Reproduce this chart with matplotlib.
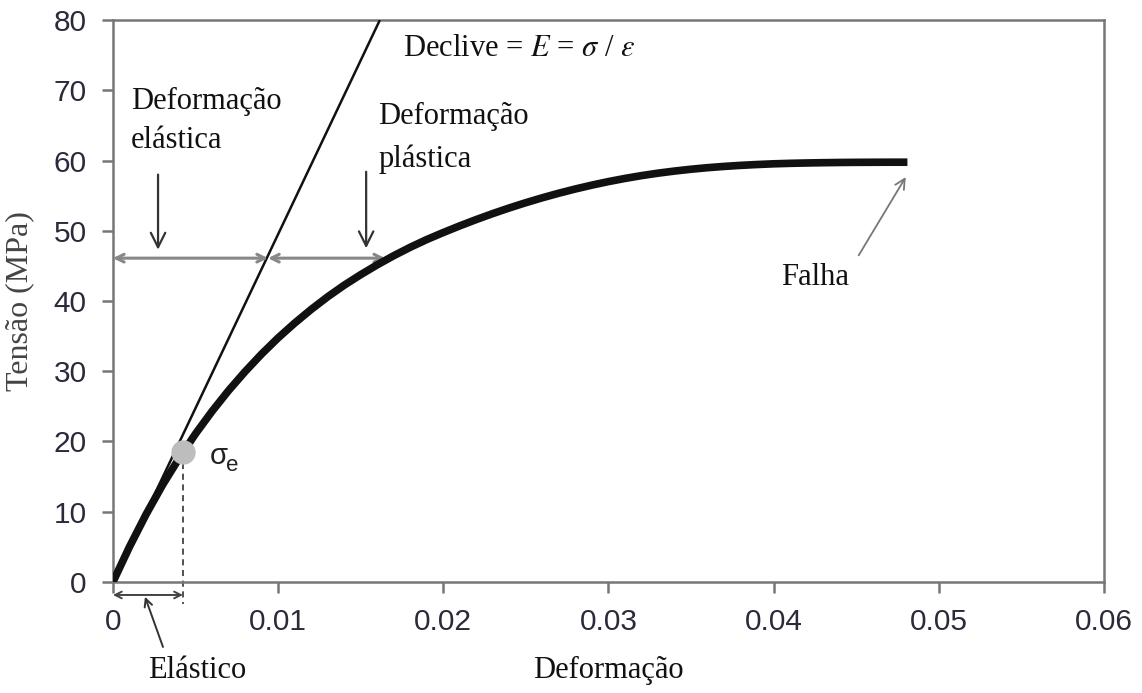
import matplotlib
matplotlib.use("Agg")
import matplotlib.pyplot as plt

# ---- data ----
strain = [0, 0.001, 0.002, 0.003, 0.004, 0.005, 0.006, 0.007, 0.008, 0.009,
          0.010, 0.011, 0.012, 0.013, 0.014, 0.015, 0.016, 0.017, 0.018, 0.019,
          0.020, 0.021, 0.022, 0.023, 0.024, 0.025, 0.026, 0.027, 0.028, 0.029,
          0.030, 0.031, 0.032, 0.033, 0.034, 0.035, 0.036, 0.037, 0.038, 0.039,
          0.040, 0.041, 0.042, 0.043, 0.044, 0.045, 0.046, 0.047, 0.0481]
stress = [0, 5.0, 9.6, 13.8, 17.6, 21.1, 24.3, 27.25, 29.95, 32.45,
          34.75, 36.85, 38.8, 40.6, 42.25, 43.75, 45.15, 46.45, 47.65, 48.75,
          49.75, 50.7, 51.6, 52.45, 53.25, 54.0, 54.7, 55.35, 55.95, 56.5,
          57.0, 57.45, 57.85, 58.2, 58.5, 58.76, 58.98, 59.16, 59.31, 59.43,
          59.53, 59.6, 59.65, 59.69, 59.72, 59.74, 59.75, 59.76, 59.76]
slope_x = [0, 0.01616]
slope_y = [0, 80]
yield_pt = (0.00424, 18.5)
xticks = [0, 0.01, 0.02, 0.03, 0.04, 0.05, 0.06]
xticklabels = ["0", "0.01", "0.02", "0.03", "0.04", "0.05", "0.06"]
yticks = [0, 10, 20, 30, 40, 50, 60, 70, 80]

serif = "Liberation Serif"
sans = "Liberation Sans"
plt.rcParams["mathtext.fontset"] = "stix"

fig = plt.figure(figsize=(11.42, 6.93), dpi=100)
ax = fig.add_axes([0.0989, 0.1602, 0.9667 - 0.0989, 0.9711 - 0.1602])
ax.set_xlim(0, 0.06)
ax.set_ylim(0, 80)

spine_c = "#777777"
for s in ax.spines.values():
    s.set_color(spine_c)
    s.set_linewidth(1.8)

ax.set_xticks(xticks)
ax.set_xticklabels(xticklabels)
ax.set_yticks(yticks)
ax.tick_params(axis="both", direction="out", length=8, width=1.8, color=spine_c,
               labelsize=21.5, labelcolor="#2a2a3a", pad=11)
for lab in ax.get_xticklabels() + ax.get_yticklabels():
    lab.set_fontfamily(sans)

ax.set_xlabel("Deformação", fontfamily=serif, fontsize=22, color="#111111", labelpad=14)
ax.set_ylabel("Tensão (MPa)", fontfamily=serif, fontsize=23, color="#444444", labelpad=14)

# slope line and curve
ax.plot(slope_x, slope_y, color="#111111", lw=1.8, solid_capstyle="butt", zorder=3)
ax.plot(strain, stress, color="#111111", lw=5.5, solid_capstyle="butt",
        solid_joinstyle="round", zorder=4)
ax.plot([yield_pt[0]], [yield_pt[1]], "o", ms=16.5, color="#bdbdbd", mec="#bdbdbd", zorder=5)

# dashed drop line
ax.plot([yield_pt[0], yield_pt[0]], [yield_pt[1] - 1.5, -3.2], color="#222222", lw=1.1,
        ls=(0, (4, 3)), clip_on=False, zorder=2)

arrow_gray = "#888888"
# horizontal double arrows at y=46.1
ax.annotate("", xy=(0.0, 46.1), xytext=(0.00939, 46.1),
            arrowprops=dict(arrowstyle="<->", color=arrow_gray, lw=2.2, shrinkA=0, shrinkB=0,
                            mutation_scale=14))
ax.annotate("", xy=(0.00939, 46.1), xytext=(0.01648, 46.1),
            arrowprops=dict(arrowstyle="<->", color=arrow_gray, lw=2.2, shrinkA=0, shrinkB=0,
                            mutation_scale=14))

# vertical arrows
for xv, y0, y1 in [(0.00273, 58.0, 47.3), (0.01533, 58.4, 47.5)]:
    ax.annotate("", xy=(xv, y1), xytext=(xv, y0),
                arrowprops=dict(arrowstyle="->", color="#333333", lw=1.6, shrinkA=0, shrinkB=0,
                                mutation_scale=26))

# elastic range arrow below axis
ax.annotate("", xy=(0.0, -1.85), xytext=(yield_pt[0], -1.85), annotation_clip=False,
            arrowprops=dict(arrowstyle="<->", color="#444444", lw=1.4, shrinkA=0, shrinkB=0,
                            mutation_scale=12))
ax.annotate("", xy=(0.00194, -2.1), xytext=(0.00303, -9.25), annotation_clip=False,
            arrowprops=dict(arrowstyle="->", color="#333333", lw=1.4, shrinkA=0, shrinkB=0,
                            mutation_scale=14))

# failure arrow
ax.annotate("", xy=(0.0480, 57.65), xytext=(0.04515, 46.5),
            arrowprops=dict(arrowstyle="->", color="#777777", lw=1.3, shrinkA=0, shrinkB=0,
                            mutation_scale=18))

# texts
tc = "#111111"
ax.text(0.01758, 76.0, r"Declive = $E$ = $\sigma$ / $\varepsilon$", fontfamily=serif, fontsize=22,
        color=tc, va="center", ha="left")
ax.text(0.00109, 65.6, "Deformação\nelástica", fontfamily=serif, fontsize=22, color=tc,
        va="center", ha="left", linespacing=1.45)
ax.text(0.01606, 63.2, "Deformação\nplástica", fontfamily=serif, fontsize=22, color=tc,
        va="center", ha="left", linespacing=1.6)
ax.text(0.04042, 43.3, "Falha", fontfamily=serif, fontsize=22, color=tc, va="center", ha="left")
ax.text(0.00588, 17.9, "σ", fontfamily=sans, fontsize=21, color="#222222",
        va="center", ha="left")
ax.text(0.00685, 16.6, "e", fontfamily=sans, fontsize=16, color="#222222",
        va="center", ha="left")
ax.text(0.00508, -12.6, "Elástico", fontfamily=serif, fontsize=22, color=tc,
        va="center", ha="center", clip_on=False)

fig.savefig("out.png", dpi=100)
